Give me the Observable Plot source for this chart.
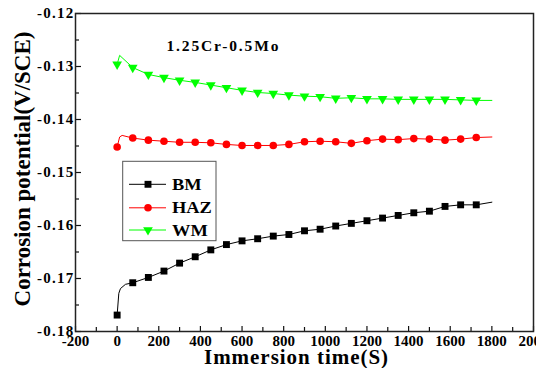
<!DOCTYPE html>
<html><head><meta charset="utf-8">
<script src="https://cdn.jsdelivr.net/npm/d3@7"></script>
<script src="https://cdn.jsdelivr.net/npm/@observablehq/plot@0.6"></script>
<style>
body{margin:0;background:#fff}
#chart svg text{font-family:"Liberation Serif","DejaVu Serif",serif;font-weight:bold}
</style></head><body><div id="chart"></div><script>
// ---- data ----
const times = [0,75,150,225,300,375,450,525,600,675,750,825,900,975,1050,1125,1200,1275,1350,1425,1500,1575,1650,1725];
const bm  = [-0.1769,-0.1708,-0.1698,-0.1686,-0.1671,-0.1659,-0.1646,-0.1636,-0.1629,-0.1625,-0.1620,-0.1617,-0.1610,-0.1607,-0.1601,-0.1596,-0.1591,-0.1586,-0.1581,-0.1576,-0.1573,-0.1564,-0.1561,-0.1561];
const haz = [-0.1452,-0.1435,-0.1439,-0.1441,-0.1443,-0.1443,-0.1444,-0.1447,-0.1449,-0.1449,-0.1449,-0.1447,-0.1442,-0.1441,-0.1442,-0.1445,-0.1440,-0.1437,-0.1438,-0.1436,-0.1437,-0.1439,-0.1437,-0.1434];
const wm  = [-0.1296,-0.1302,-0.1315,-0.1321,-0.1326,-0.1330,-0.1335,-0.1340,-0.1345,-0.1349,-0.1351,-0.1354,-0.1356,-0.1357,-0.1360,-0.1359,-0.1361,-0.1361,-0.1362,-0.1362,-0.1362,-0.1362,-0.1363,-0.1364];
// extra points of the continuous curves (between / after markers)
const bmExtraT  = [8,16,40,1800];   const bmExtraV  = [-0.1728,-0.1719,-0.1711,-0.1556];
const hazExtraT = [12,24,1800];     const hazExtraV = [-0.1433,-0.1430,-0.1433];
const wmExtraT  = [12,1800];        const wmExtraV  = [-0.1279,-0.1364];
const seriesNames = ["BM","HAZ","WM"];
const seriesColors = ["#000000","#ff0000","#00ff00"];
const seriesSymbols = ["square","circle","triangle"];
const xTicks = [-200,0,200,400,600,800,1000,1200,1400,1600,1800,2000];
const xMinor = [-100,100,300,500,700,900,1100,1300,1500,1700,1900];
const yTicks = [-0.18,-0.17,-0.16,-0.15,-0.14,-0.13,-0.12];
const yMinor = [-0.175,-0.165,-0.155,-0.145,-0.135,-0.125];
const title = "1.25Cr-0.5Mo";
const xLabel = "Immersion time(S)";
const yLabel = "Corrosion potential(V/SCE)";

// ---- build tables ----
const vals = [bm, haz, wm];
const extraT = [bmExtraT, hazExtraT, wmExtraT];
const extraV = [bmExtraV, hazExtraV, wmExtraV];
const markers = [], lines = [];
seriesNames.forEach((s,i)=>{
  times.forEach((t,j)=>markers.push({s, t, v: vals[i][j]}));
  const pts = times.map((t,j)=>({s, t, v: vals[i][j]}))
    .concat(extraT[i].map((t,j)=>({s, t, v: extraV[i][j]})));
  pts.sort((a,b)=>a.t-b.t);
  lines.push(...pts);
});

const W = 536, H = 368, mL = 75, mR = 3, mT = 13, mB = 37;
const iW = W - mL - mR, iH = H - mT - mB;
const font = "Liberation Serif, DejaVu Serif, serif";

const chart = Plot.plot({
  width: W, height: H,
  marginLeft: mL, marginRight: mR, marginTop: mT, marginBottom: mB,
  style: {fontFamily: font, fontWeight: "bold", background: "#fff", color: "#000", overflow: "visible"},
  x: {domain: [-200, 2000]},
  y: {domain: [-0.18, -0.12]},
  color: {domain: seriesNames, range: seriesColors},
  marks: [
    Plot.ruleX(xTicks, {x: d=>d, insetTop: iH - 5, stroke: "#111", strokeWidth: 1.2}),
    Plot.ruleX(xMinor, {x: d=>d, insetTop: iH - 4, stroke: "#111", strokeWidth: 1.2}),
    Plot.ruleY(yTicks, {y: d=>d, insetRight: iW - 6, stroke: "#111", strokeWidth: 1.2}),
    Plot.ruleY(yMinor, {y: d=>d, insetRight: iW - 4, stroke: "#111", strokeWidth: 1.2}),
    Plot.axisX({ticks: xTicks, tickSize: 0, tickPadding: 4, fontSize: 15, tickFormat: d=>String(d), label: null}),
    Plot.axisY({ticks: yTicks, tickSize: 0, tickPadding: 1, fontSize: 15, tickFormat: d=>d.toFixed(2), label: null}),
    Plot.frame({stroke: "#222", strokeWidth: 1.5}),
    Plot.line(lines, {x: "t", y: "v", z: "s", stroke: "s", strokeWidth: 1}),
    Plot.dot(markers.filter(d=>d.s==="BM"), {x: "t", y: "v", symbol: "square", r: 3.9, fill: "#000"}),
    Plot.dot(markers.filter(d=>d.s==="HAZ"), {x: "t", y: "v", symbol: "circle", r: 3.8, fill: "#ff0000"}),
    Plot.dot(markers.filter(d=>d.s==="WM"), {x: "t", y: "v", symbol: "triangle", rotate: 180, r: 3.6, fill: "#00ff00"}),
    Plot.text([title], {frameAnchor: "top-left", dx: 91, dy: 33, textAnchor: "start", lineAnchor: "middle", fontSize: 15.5, fill: "#000"}),
    Plot.text([xLabel], {frameAnchor: "bottom", dx: -8, dy: 25.5, textAnchor: "middle", lineAnchor: "middle", fontSize: 21, fill: "#000"}),
    Plot.text([yLabel], {frameAnchor: "left", dx: -53, dy: -3.5, rotate: -90, textAnchor: "middle", lineAnchor: "middle", fontSize: 23, fill: "#000"})
  ]
});
document.getElementById("chart").append(chart);

const svg = d3.select(chart);
// the reference's lettering is stretched sideways; mimic it with letter spacing
function spread(el, factor, target) {
  const txt = el.textContent || "";
  const w = el.getBBox().width;
  if (!w || txt.length < 2) return;
  const goal = target || w * factor;
  el.style.letterSpacing = ((goal - w) / txt.length).toFixed(2) + "px";
}
svg.selectAll('g[aria-label="y-axis tick label"] text').each(function(){ spread(this, 1.2); });
svg.selectAll("text").each(function(){
  const s = (this.textContent || "").trim();
  if (s === title) spread(this, 1, 114);
  else if (s === xLabel) spread(this, 1, 185);
});

// ---- legend box inside the plot ----
const lg = svg.append("g");
lg.append("rect").attr("x", 122.7).attr("y", 161.3).attr("width", 93.3).attr("height", 79.4)
  .attr("fill", "#fff").attr("stroke", "#555").attr("stroke-width", 1);
const rowY = [184.3, 207.8, 230];
seriesNames.forEach((s,i)=>{
  const y = rowY[i];
  lg.append("line").attr("x1", 129).attr("x2", 166).attr("y1", y).attr("y2", y)
    .attr("stroke", seriesColors[i]).attr("stroke-width", 1);
  const sym = seriesSymbols[i] === "square" ? d3.symbolSquare : seriesSymbols[i] === "circle" ? d3.symbolCircle : d3.symbolTriangle;
  const r = i === 2 ? 3.6 : i === 1 ? 3.8 : 3.9;
  lg.append("path").attr("d", d3.symbol(sym, Math.PI * r * r)())
    .attr("transform", `translate(148,${y})` + (i === 2 ? " rotate(180)" : ""))
    .attr("fill", seriesColors[i]);
  const t = lg.append("text").attr("x", 172).attr("y", y).attr("dy", "0.35em")
    .attr("text-anchor", "start").attr("font-size", 16).attr("fill", "#000").text(s);
  const tw = t.node().getComputedTextLength();
  t.attr("textLength", (tw * 1.15).toFixed(1)).attr("lengthAdjust", "spacingAndGlyphs");
});
</script></body></html>
